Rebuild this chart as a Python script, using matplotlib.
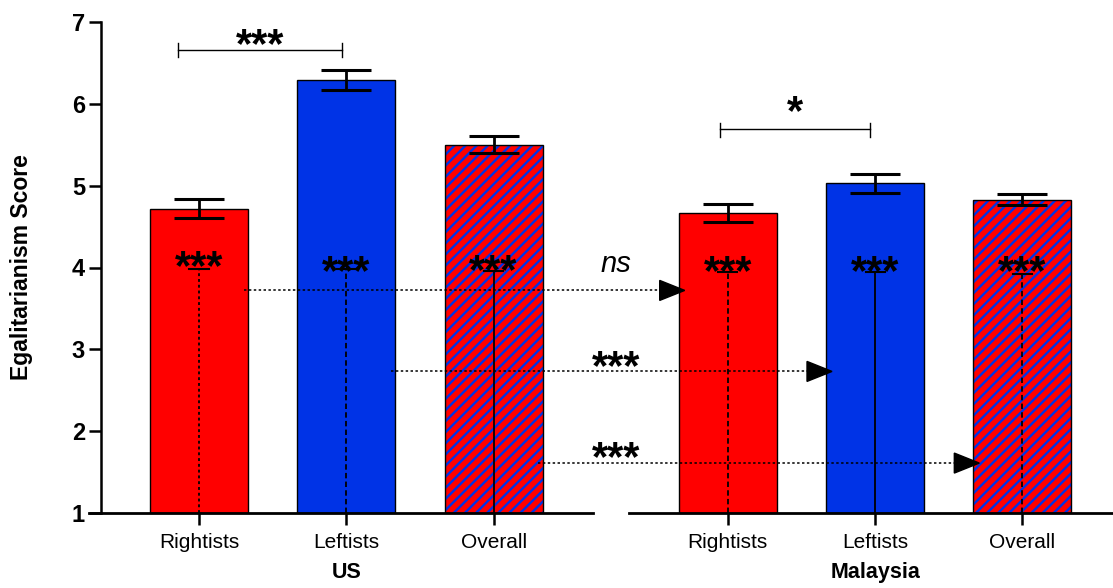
import numpy as np
import matplotlib
matplotlib.use("Agg")
import matplotlib.pyplot as plt
from matplotlib.patches import Polygon

plt.rcParams['font.family'] = ['Liberation Sans', 'DejaVu Sans']
plt.rcParams['hatch.linewidth'] = 1.7

# --- Data ---
countries = ['US', 'Malaysia']
groups = ['Rightists', 'Leftists', 'Overall']
us_means = [4.72, 6.29, 5.50]
us_se = [0.12, 0.12, 0.105]
my_means = [4.665, 5.03, 4.83]
my_se = [0.115, 0.115, 0.07]

# one-sample markers inside bars (reference line tops and label)
us_ref = [3.98, 3.98, 3.96]
my_ref = [3.945, 3.945, 3.925]
us_ref_star = [3.86, 3.80, 3.81]
my_ref_star = [3.80, 3.80, 3.80]
us_ref_style = ['dotted', 'dashed', 'solid']
my_ref_style = ['dashed', 'solid', 'dashed']

# between-group brackets within each country (Rightists vs Leftists)
bracket_y = [6.66, 5.69]
bracket_label = ['***', '*']
bracket_label_y = [6.57, 5.75]

# cross-country comparisons (US group -> Malaysia group)
cross_y = [3.72, 2.73, 1.61]
cross_label = ['ns', '***', '***']
cross_label_y = [3.945, 2.64, 1.525]

# --- Layout ---
red = '#FF0000'
blue = '#0033E6'
width = 0.665
us_x = np.arange(3)
my_x = us_x + 3.59
xleft, xright = -0.665, 6.205

fig = plt.figure(figsize=(11.13, 5.88), dpi=100)
ax = fig.add_axes([101 / 1113, 75 / 588, 1012 / 1113, 491 / 588])
ax.set_xlim(xleft, xright)
ax.set_ylim(1, 7)

for xs, means, se in [(us_x, us_means, us_se), (my_x, my_means, my_se)]:
    for i, (x, m) in enumerate(zip(xs, means)):
        if i == 0:
            ax.bar(x, m - 1, width, bottom=1, color=red, edgecolor='k', lw=1, zorder=2)
        elif i == 1:
            ax.bar(x, m - 1, width, bottom=1, color=blue, edgecolor='k', lw=1, zorder=2)
        else:
            ax.bar(x, m - 1, width, bottom=1, color=red, edgecolor=blue, lw=0,
                   hatch='///', zorder=2)
            ax.bar(x, m - 1, width, bottom=1, fill=False, edgecolor='k', lw=1, zorder=2.1)
    ax.errorbar(xs, means, yerr=se, fmt='none', ecolor='k', elinewidth=2,
                capsize=18, capthick=2.2, zorder=3)

# inner reference markers
for xs, refs, stars, styles in [(us_x, us_ref, us_ref_star, us_ref_style),
                                (my_x, my_ref, my_ref_star, my_ref_style)]:
    for x, r, s, st in zip(xs, refs, stars, styles):
        ls = {'dotted': (0, (1.6, 1.6)), 'dashed': (0, (3, 1.8)), 'solid': '-'}[st]
        ax.plot([x, x], [1, r], color='k', lw=1.3, ls=ls, zorder=4)
        ax.plot([x - 0.065, x + 0.065], [r, r], color='k', lw=1.5, zorder=4)
        ax.text(x, s, '***', ha='center', va='baseline', fontsize=30,
                fontweight='bold', zorder=5)

# brackets
bracket_pad = [(0.143, 0.03), (0.053, 0.035)]
for xs, by, lab, ly, (pl, pr) in zip([us_x, my_x], bracket_y, bracket_label,
                                     bracket_label_y, bracket_pad):
    x0, x1 = xs[0] - pl, xs[1] - pr
    ax.plot([x0, x1], [by, by], color='k', lw=1)
    ax.plot([x0, x0], [by - 0.09, by + 0.08], color='k', lw=1)
    ax.plot([x1, x1], [by - 0.09, by + 0.08], color='k', lw=1)
    ax.text((x0 + x1) / 2, ly, lab, ha='center', va='baseline', fontsize=30,
            fontweight='bold')

# cross-country dotted arrows
head_len = 25 / 147.3
head_half = 10 / 81.83
for i, (y, lab, ly) in enumerate(zip(cross_y, cross_label, cross_label_y)):
    start = us_x[i] + width / 2 - 0.03
    tip = my_x[i] - width / 2 + 0.04
    ax.plot([start, tip - head_len], [y, y], color='k', lw=1.1,
            ls=(0, (1.6, 1.6)), zorder=4)
    ax.add_patch(Polygon([(tip, y), (tip - head_len, y + head_half),
                          (tip - head_len, y - head_half)], closed=True,
                         color='k', zorder=5))
    if lab == 'ns':
        ax.text(2.83, ly, lab, ha='center', va='baseline', fontsize=21,
                style='italic')
    else:
        ax.text(2.83, ly, lab, ha='center', va='baseline', fontsize=30,
                fontweight='bold')

# axes styling
for s in ['top', 'right', 'bottom']:
    ax.spines[s].set_visible(False)
ax.spines['left'].set_linewidth(1.8)
ax.plot([-0.747, 2.675], [1, 1], color='k', lw=2, clip_on=False, zorder=6)
ax.plot([2.92, xright + 0.1], [1, 1], color='k', lw=2, clip_on=False, zorder=6)

ax.set_yticks(range(1, 8))
ax.tick_params(axis='y', length=8.5, width=1.8, pad=3, labelsize=17)
for t in ax.get_yticklabels():
    t.set_fontweight('bold')
ax.set_xticks(list(us_x) + list(my_x))
ax.set_xticklabels(groups + groups)
ax.tick_params(axis='x', length=8.5, width=1.8, pad=6, labelsize=15)

ax.set_ylabel('Egalitarianism Score', fontsize=16.5, fontweight='bold')
ax.yaxis.set_label_coords(-0.067, 0.5)

for xs, name in zip([us_x, my_x], countries):
    ax.text(xs[1], 0.206, name, ha='center', va='baseline', fontsize=15.5,
            fontweight='bold', clip_on=False)

fig.savefig('out.png', dpi=100)
